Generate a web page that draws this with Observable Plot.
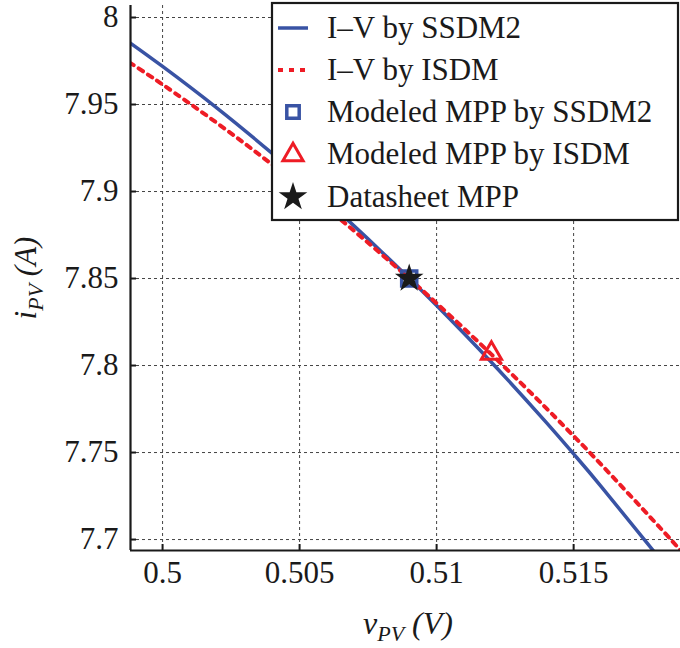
<!DOCTYPE html>
<html><head><meta charset="utf-8">
<script src="https://cdn.jsdelivr.net/npm/d3@7"></script>
<script src="https://cdn.jsdelivr.net/npm/@observablehq/plot@0.6"></script>
<style>
body{margin:0;background:#fff}
svg text{font-family:'Liberation Serif','Times New Roman',serif !important;}
</style>
</head><body><div id="chart"></div>
<script>
// I–V curve by SSDM2
const vSSDM2 = [0.4988, 0.500, 0.502, 0.504, 0.506, 0.508, 0.509, 0.510, 0.512, 0.514, 0.515, 0.516, 0.518];
const iSSDM2 = [7.9856, 7.9719, 7.9478, 7.9219, 7.8945, 7.8653, 7.8501, 7.8345, 7.8019, 7.7673, 7.7492, 7.7306, 7.6918];
// I–V curve by ISDM
const vISDM = [0.4988, 0.500, 0.502, 0.504, 0.506, 0.508, 0.509, 0.510, 0.512, 0.514, 0.515, 0.516, 0.518, 0.519];
const iISDM = [7.9741, 7.9615, 7.9392, 7.9155, 7.8904, 7.8638, 7.8500, 7.8358, 7.8064, 7.7755, 7.7595, 7.7432, 7.7094, 7.6920];
// MPPs
const mppSSDM2V = [0.509], mppSSDM2I = [7.850];
const mppISDMV = [0.512], mppISDMI = [7.807];
const mppDataV = [0.509], mppDataI = [7.850];
// ticks
const xTicks = [0.5, 0.505, 0.51, 0.515];
const xTickLabels = ["0.5", "0.505", "0.51", "0.515"];
const yTicks = [7.7, 7.75, 7.8, 7.85, 7.9, 7.95, 8];
const yTickLabels = ["7.7", "7.75", "7.8", "7.85", "7.9", "7.95", "8"];
const xDomain = [0.49883, 0.5189];
const yDomain = [7.6937, 8.0069];
const legendLabels = ["I\u2013V by SSDM2", "I\u2013V by ISDM", "Modeled MPP by SSDM2", "Modeled MPP by ISDM", "Datasheet MPP"];

const BLUE = "#3953a4", RED = "#ee1c25", INK = "#1a1a1a";
const FONT = "'Liberation Serif', 'Times New Roman', serif";

const ssdm = vSSDM2.map((v, k) => ({v, i: iSSDM2[k]}));
const isdm = vISDM.map((v, k) => ({v, i: iISDM[k]}));
const pt = (V, I) => V.map((v, k) => ({v, i: I[k]}));

const chart = Plot.plot({
  width: 680, height: 648,
  marginLeft: 130, marginRight: 0, marginTop: 5, marginBottom: 98,
  x: {domain: xDomain},
  y: {domain: yDomain},
  style: {fontFamily: FONT, fontSize: "30px", color: INK, background: "#fff"},
  marks: [
    Plot.gridX(xTicks, {stroke: "#444", strokeOpacity: 1, strokeWidth: 1, strokeDasharray: "3,3"}),
    Plot.gridY(yTicks, {stroke: "#444", strokeOpacity: 1, strokeWidth: 1, strokeDasharray: "3,3"}),
    Plot.line(ssdm, {x: "v", y: "i", stroke: BLUE, strokeWidth: 3.5, curve: "natural", clip: true}),
    Plot.line(isdm, {x: "v", y: "i", stroke: RED, strokeWidth: 4, strokeDasharray: "5,6", curve: "natural", clip: true}),
    Plot.dot(pt(mppSSDM2V, mppSSDM2I), {x: "v", y: "i", symbol: "square", r: 8.5, stroke: BLUE, strokeWidth: 3.5, fill: "none"}),
    Plot.dot(pt(mppISDMV, mppISDMI), {x: "v", y: "i", symbol: "triangle", r: 7.5, stroke: RED, strokeWidth: 3, fill: "none"}),
    Plot.dot(pt(mppDataV, mppDataI), {x: "v", y: "i", symbol: "star", r: 9, fill: INK, stroke: "none"}),
    Plot.axisX(xTicks, {tickSize: -6, tickPadding: 16, strokeWidth: 2, label: null, fontSize: 31, fontFamily: FONT,
      tickFormat: d => xTickLabels[xTicks.indexOf(d)]}),
    Plot.axisY(yTicks, {tickSize: -6, tickPadding: 18, strokeWidth: 2, label: null, fontSize: 31, fontFamily: FONT,
      tickFormat: d => yTickLabels[yTicks.indexOf(d)]}),
    Plot.ruleX([xDomain[0]], {stroke: INK, strokeWidth: 2.2}),
    Plot.ruleY([yDomain[0]], {stroke: INK, strokeWidth: 2.2})
  ]
});

const svg = d3.select(chart);
// legend
const lg = svg.append("g").attr("text-anchor", "start");
lg.append("rect").attr("x", 272).attr("y", 3).attr("width", 406).attr("height", 217)
  .attr("fill", "#fff").attr("stroke", INK).attr("stroke-width", 2.2);
const rows = [28, 70, 112, 154, 197];
const sx = 293;
lg.append("line").attr("x1", 278).attr("x2", 308).attr("y1", rows[0]).attr("y2", rows[0])
  .attr("stroke", BLUE).attr("stroke-width", 3.5);
lg.append("line").attr("x1", 278).attr("x2", 308).attr("y1", rows[1]).attr("y2", rows[1])
  .attr("stroke", RED).attr("stroke-width", 4).attr("stroke-dasharray", "5,6");
lg.append("path").attr("transform", `translate(${sx},${rows[2]})`)
  .attr("d", d3.symbol(d3.symbolSquare, Math.PI * 7 * 7)()).attr("fill", "none").attr("stroke", BLUE).attr("stroke-width", 3.5);
lg.append("path").attr("transform", `translate(${sx},${rows[3] + 1})`)
  .attr("d", d3.symbol(d3.symbolTriangle, Math.PI * 7.5 * 7.5)()).attr("fill", "none").attr("stroke", RED).attr("stroke-width", 3);
lg.append("path").attr("transform", `translate(${sx},${rows[4]})`)
  .attr("d", d3.symbol(d3.symbolStar, Math.PI * 9 * 9)()).attr("fill", INK);
legendLabels.forEach((t, k) => {
  lg.append("text").attr("x", 327).attr("y", rows[k] + 10).attr("fill", INK).attr("text-anchor", "start")
    .style("font-family", FONT).style("font-size", "31px").text(t);
});

// axis labels
const xl = svg.append("text").attr("x", 363).attr("y", 634).attr("fill", INK).attr("text-anchor", "start")
  .style("font-family", FONT).style("font-size", "32px").style("font-style", "italic");
xl.append("tspan").text("v");
xl.append("tspan").attr("dy", 7).style("font-size", "22px").text("PV");
xl.append("tspan").attr("dy", -7).text(" (V)");

const yl = svg.append("text").attr("transform", "translate(36,278) rotate(-90)").attr("text-anchor", "middle").attr("fill", INK)
  .style("font-family", FONT).style("font-size", "31px").style("font-style", "italic");
yl.append("tspan").text("i");
yl.append("tspan").attr("dy", 7).style("font-size", "22px").text("PV");
yl.append("tspan").attr("dy", -7).text(" (A)");

document.getElementById("chart").appendChild(chart);
</script>
</body></html>
